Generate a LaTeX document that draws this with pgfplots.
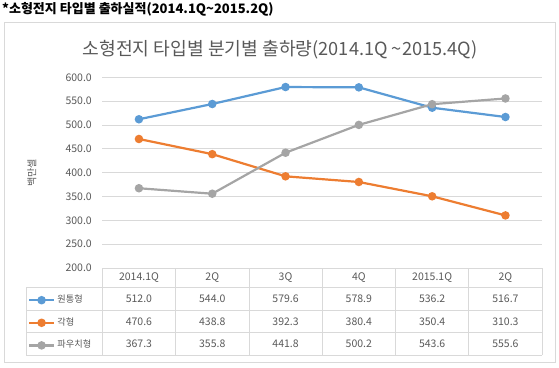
\documentclass[border=0pt]{standalone}
\usepackage{fontspec}
\setmainfont{Noto Sans CJK KR}
\usepackage{pgfplots}
\pgfplotsset{compat=1.18}
\definecolor{cblue}{HTML}{5B9BD5}
\definecolor{corange}{HTML}{ED7D31}
\definecolor{cgray}{HTML}{A5A5A5}
\definecolor{tgray}{HTML}{595959}
\definecolor{gridc}{HTML}{D9D9D9}
\begin{document}
\begin{tikzpicture}
\path[use as bounding box] (0pt,0pt) rectangle (559pt,367pt);
\draw[gridc, line width=0.8pt] (4pt,5pt) rectangle (555pt,344.3pt);
\node[anchor=west, font=\bfseries\fontsize{13}{15}\selectfont, inner sep=0pt] at (2pt,357.7pt) {*소형전지 타입별 출하실적(2014.1Q\textasciitilde 2015.2Q)};
\node[font=\fontsize{18.2}{21}\selectfont, text=tgray, inner sep=0pt] at (280pt,317pt) {소형전지 타입별 분기별 출하량(2014.1Q \textasciitilde 2015.4Q)};
\begin{axis}[
  at={(102.3pt,99pt)}, anchor=south west, scale only axis,
  width=439.8pt, height=190.7pt,
  xmin=-0.5, xmax=5.5, ymin=200, ymax=600,
  ytick={200,250,...,600}, xtick=\empty,
  axis line style={draw=none},
  ymajorgrids, grid style={gridc, line width=0.8pt},
  major tick length=0pt,
  /pgf/number format/assume math mode=true,
  yticklabel style={font=\fontsize{10.5}{12}\selectfont, text=tgray, xshift=-7pt,
    /pgf/number format/fixed, /pgf/number format/fixed zerofill, /pgf/number format/precision=1},
  ylabel={백만셀},
  ylabel style={at={(axis description cs:-0.160,0.5)}, anchor=center, font=\fontsize{10}{12}\selectfont, text=tgray},
  legend style={at={(axis description cs:-0.1683,-0.140)}, anchor=north west, draw=none, fill=none,
    inner sep=0pt, outer sep=0pt, row sep=11.6pt, column sep=2.5pt,
    font=\fontsize{9.2}{11}\selectfont, text=tgray,
    nodes={inner sep=0pt, text height=8pt, text depth=3pt}},
  legend cell align=left,
  legend image code/.code={\draw[mark repeat=2, mark phase=2, #1] plot coordinates {(0pt,0pt) (12.2pt,0pt) (24.4pt,0pt)};},
  every axis plot/.append style={line width=2.2pt, mark=*, mark size=3.1pt},
]
\addplot[cblue, mark options={fill=cblue, draw=cblue}] coordinates {(0,512.0) (1,544.0) (2,579.6) (3,578.9) (4,536.2) (5,516.7)};
\addlegendentry{원통형}
\addplot[corange, mark options={fill=corange, draw=corange}] coordinates {(0,470.6) (1,438.8) (2,392.3) (3,380.4) (4,350.4) (5,310.3)};
\addlegendentry{각형}
\addplot[cgray, mark options={fill=cgray, draw=cgray}] coordinates {(0,367.3) (1,355.8) (2,441.8) (3,500.2) (4,543.6) (5,555.6)};
\addlegendentry{파우치형}
\end{axis}
% table grid
\begin{scope}[gridc, line width=0.8pt]
\draw (102.3pt,99pt) -- (542.1pt,99pt);
\foreach \yy in {79.7,57,34.3,12} \draw (26pt,\yy pt) -- (542.1pt,\yy pt);
\draw (26pt,79.7pt) -- (26pt,12pt);
\foreach \i in {0,...,6} \draw ({102.3pt+73.3pt*\i},99pt) -- ({102.3pt+73.3pt*\i},12pt);
\end{scope}
\begin{scope}[font=\fontsize{10.5}{12}\selectfont, text=tgray]
\foreach \t [count=\i from 0] in {2014.1Q,2Q,3Q,4Q,2015.1Q,2Q} \node at ({138.95pt+73.3pt*\i},89.2pt) {\t};
\foreach \t [count=\i from 0] in {512.0,544.0,579.6,578.9,536.2,516.7} \node at ({138.95pt+73.3pt*\i},68.3pt) {\t};
\foreach \t [count=\i from 0] in {470.6,438.8,392.3,380.4,350.4,310.3} \node at ({138.95pt+73.3pt*\i},45.7pt) {\t};
\foreach \t [count=\i from 0] in {367.3,355.8,441.8,500.2,543.6,555.6} \node at ({138.95pt+73.3pt*\i},23.2pt) {\t};
\end{scope}
\end{tikzpicture}
\end{document}
